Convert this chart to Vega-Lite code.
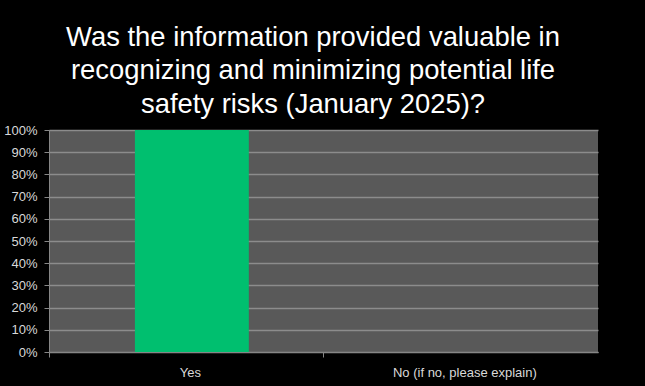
{
  "$schema": "https://vega.github.io/schema/vega-lite/v6.json",
  "autosize": "none",
  "width": 549,
  "height": 222,
  "padding": {"left": 49, "top": 130, "right": 47, "bottom": 34},
  "background": "#000000",
  "title": {
    "text": ["Was the information provided valuable in", "recognizing and minimizing potential life", "safety risks (January 2025)?"],
    "color": "#ffffff",
    "font": "Liberation Sans",
    "fontSize": 27.4,
    "fontWeight": "normal",
    "lineHeight": 33.5,
    "anchor": "middle",
    "dx": -10.5,
    "offset": 6
  },
  "data": {
    "values": [
      {"answer": "Yes", "share": 1.0},
      {"answer": "No (if no, please explain)", "share": 0.0}
    ]
  },
  "mark": {"type": "bar", "color": "#00bf6f"},
  "encoding": {
    "x": {
      "field": "answer",
      "type": "nominal",
      "sort": null,
      "scale": {"paddingInner": 0.585, "paddingOuter": 0.2925, "align": 0.535},
      "axis": {
        "title": null,
        "labelAngle": 0,
        "labelColor": "#d9d9d9",
        "labelFont": "Liberation Sans",
        "labelFontSize": 13,
        "labelPadding": 9,
        "labelOffset": 84,
        "tickColor": "#868686",
        "tickSize": 5,
        "bandPosition": 0,
        "tickOffset": -86,
        "domainColor": "#868686",
        "grid": false
      }
    },
    "y": {
      "field": "share",
      "type": "quantitative",
      "scale": {"domain": [0, 1], "nice": false},
      "axis": {
        "title": null,
        "format": ".0%",
        "values": [0, 0.1, 0.2, 0.3, 0.4, 0.5, 0.6, 0.7, 0.8, 0.9, 1],
        "labelColor": "#d9d9d9",
        "labelFont": "Liberation Sans",
        "labelFontSize": 13,
        "labelPadding": 7,
        "tickColor": "#868686",
        "tickSize": 5,
        "domainColor": "#868686",
        "gridColor": "#8c8c8c",
        "gridWidth": 1.5
      }
    }
  },
  "config": {
    "view": {"fill": "#595959", "stroke": null}
  }
}
